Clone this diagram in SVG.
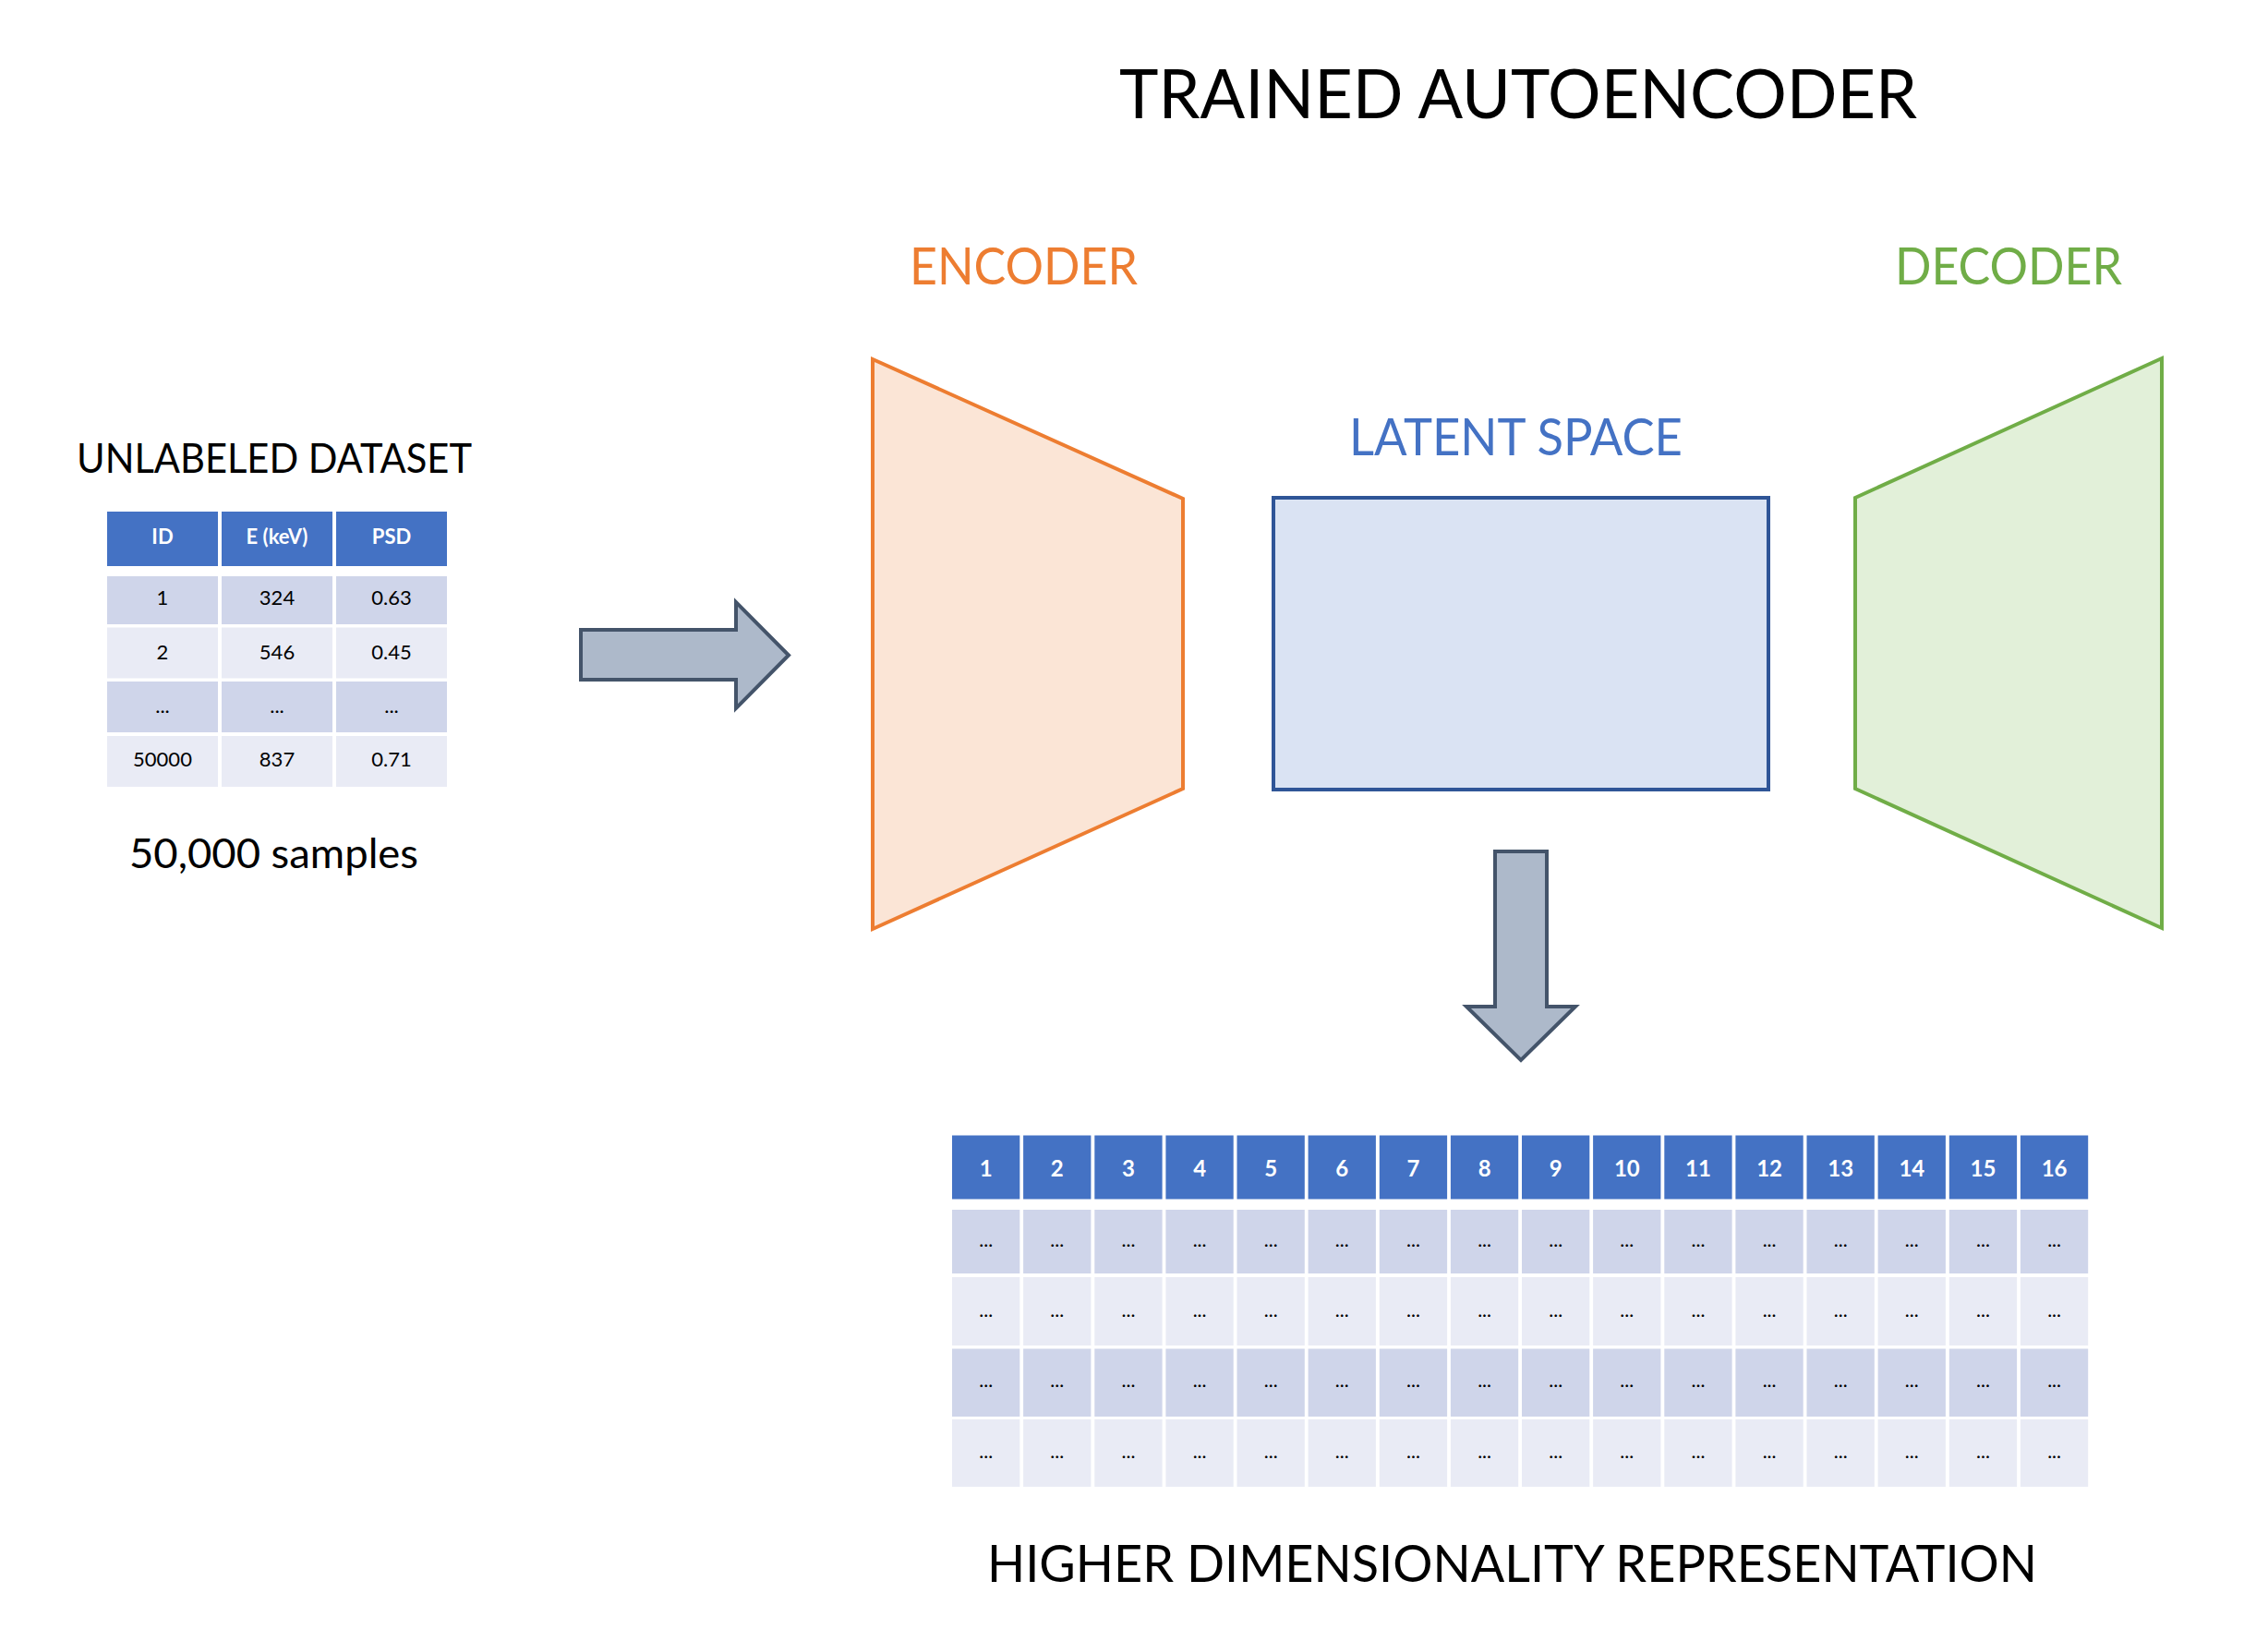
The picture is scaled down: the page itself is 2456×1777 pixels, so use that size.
<svg xmlns="http://www.w3.org/2000/svg" width="2456" height="1777" viewBox="0 0 2456 1777">
<style>
text{font-family:Lato,"Open Sans","Liberation Sans",sans-serif}
.lbl{font-size:45px;fill:#000}
.hd{fill:#4472C4}
.r1{fill:#CFD5EA}
.r2{fill:#E9EBF5}
.ht{font-size:22px;font-weight:bold;fill:#fff;text-anchor:middle}
.bt{font-size:22px;fill:#000;text-anchor:middle}
.bht{font-size:24px;font-weight:bold;fill:#fff;text-anchor:middle}
.dt{font-size:21px;fill:#000;text-anchor:middle}
.arrow{fill:#ADB9CA;stroke:#44546A;stroke-width:4;stroke-linejoin:miter}
</style>
<rect width="2456" height="1777" fill="#fff"/>

<g id="title">
<text x="1212" y="128" font-size="73" textLength="864" lengthAdjust="spacingAndGlyphs" fill="#000">TRAINED AUTOENCODER</text>
</g>

<g id="dataset">
<text class="lbl" x="83" y="512" textLength="428" lengthAdjust="spacingAndGlyphs">UNLABELED DATASET</text>
<rect class="hd" x="116" y="554" width="120" height="59"/>
<rect class="hd" x="240" y="554" width="120" height="59"/>
<rect class="hd" x="364" y="554" width="120" height="59"/>
<rect class="r1" x="116" y="624" width="120" height="52"/>
<rect class="r1" x="240" y="624" width="120" height="52"/>
<rect class="r1" x="364" y="624" width="120" height="52"/>
<rect class="r2" x="116" y="679.5" width="120" height="55"/>
<rect class="r2" x="240" y="679.5" width="120" height="55"/>
<rect class="r2" x="364" y="679.5" width="120" height="55"/>
<rect class="r1" x="116" y="738" width="120" height="55"/>
<rect class="r1" x="240" y="738" width="120" height="55"/>
<rect class="r1" x="364" y="738" width="120" height="55"/>
<rect class="r2" x="116" y="797" width="120" height="55"/>
<rect class="r2" x="240" y="797" width="120" height="55"/>
<rect class="r2" x="364" y="797" width="120" height="55"/>
<text class="ht" x="176" y="589">ID</text>
<text class="ht" x="300" y="589">E (keV)</text>
<text class="ht" x="424" y="589">PSD</text>
<text class="bt" x="176" y="655">1</text>
<text class="bt" x="300" y="655">324</text>
<text class="bt" x="424" y="655">0.63</text>
<text class="bt" x="176" y="714">2</text>
<text class="bt" x="300" y="714">546</text>
<text class="bt" x="424" y="714">0.45</text>
<text class="bt" x="176" y="772">...</text>
<text class="bt" x="300" y="772">...</text>
<text class="bt" x="424" y="772">...</text>
<text class="bt" x="176" y="830">50000</text>
<text class="bt" x="300" y="830">837</text>
<text class="bt" x="424" y="830">0.71</text>
<text class="lbl" x="140" y="940" textLength="313" lengthAdjust="spacingAndGlyphs">50,000 samples</text>
</g>

<g id="encoder">
<polygon points="945,389 1281,540 1281,854 945,1006" fill="#FBE5D6" stroke="#ED7D31" stroke-width="4"/>
<text x="985" y="308" font-size="56" fill="#ED7D31" textLength="247" lengthAdjust="spacingAndGlyphs">ENCODER</text>
</g>

<g id="latent">
<rect x="1379" y="539" width="536" height="316" fill="#DAE3F3" stroke="#2F5597" stroke-width="4"/>
<text x="1461" y="493" font-size="56" fill="#4472C4" textLength="361" lengthAdjust="spacingAndGlyphs">LATENT SPACE</text>
</g>

<g id="decoder">
<polygon points="2009,539 2341,388 2341,1005 2009,854" fill="#E2F0D9" stroke="#70AD47" stroke-width="4"/>
<text x="2052" y="308" font-size="56" fill="#70AD47" textLength="246" lengthAdjust="spacingAndGlyphs">DECODER</text>
</g>

<g id="connectors">
<polygon class="arrow" points="629,682 797,682 797,652 854,709.5 797,767 797,736 629,736"/>
<polygon class="arrow" points="1619,922 1675,922 1675,1090 1706,1090 1647,1148 1588,1090 1619,1090"/>
</g>

<g id="representation">
<g id="rep-header">
<rect class="hd" x="1031" y="1229.5" width="73.3" height="69"/>
<rect class="hd" x="1108.1" y="1229.5" width="73.3" height="69"/>
<rect class="hd" x="1185.3" y="1229.5" width="73.3" height="69"/>
<rect class="hd" x="1262.4" y="1229.5" width="73.3" height="69"/>
<rect class="hd" x="1339.5" y="1229.5" width="73.3" height="69"/>
<rect class="hd" x="1416.6" y="1229.5" width="73.3" height="69"/>
<rect class="hd" x="1493.8" y="1229.5" width="73.3" height="69"/>
<rect class="hd" x="1570.9" y="1229.5" width="73.3" height="69"/>
<rect class="hd" x="1648" y="1229.5" width="73.3" height="69"/>
<rect class="hd" x="1725.1" y="1229.5" width="73.3" height="69"/>
<rect class="hd" x="1802.3" y="1229.5" width="73.3" height="69"/>
<rect class="hd" x="1879.4" y="1229.5" width="73.3" height="69"/>
<rect class="hd" x="1956.5" y="1229.5" width="73.3" height="69"/>
<rect class="hd" x="2033.6" y="1229.5" width="73.3" height="69"/>
<rect class="hd" x="2110.8" y="1229.5" width="73.3" height="69"/>
<rect class="hd" x="2187.9" y="1229.5" width="73.3" height="69"/>
<text class="bht" x="1067.7" y="1274">1</text>
<text class="bht" x="1144.8" y="1274">2</text>
<text class="bht" x="1222" y="1274">3</text>
<text class="bht" x="1299.1" y="1274">4</text>
<text class="bht" x="1376.2" y="1274">5</text>
<text class="bht" x="1453.3" y="1274">6</text>
<text class="bht" x="1530.5" y="1274">7</text>
<text class="bht" x="1607.6" y="1274">8</text>
<text class="bht" x="1684.7" y="1274">9</text>
<text class="bht" x="1761.8" y="1274">10</text>
<text class="bht" x="1839" y="1274">11</text>
<text class="bht" x="1916.1" y="1274">12</text>
<text class="bht" x="1993.2" y="1274">13</text>
<text class="bht" x="2070.3" y="1274">14</text>
<text class="bht" x="2147.5" y="1274">15</text>
<text class="bht" x="2224.6" y="1274">16</text>
</g>
<g id="rep-row1">
<rect class="r1" x="1031" y="1310" width="73.3" height="69"/>
<rect class="r1" x="1108.1" y="1310" width="73.3" height="69"/>
<rect class="r1" x="1185.3" y="1310" width="73.3" height="69"/>
<rect class="r1" x="1262.4" y="1310" width="73.3" height="69"/>
<rect class="r1" x="1339.5" y="1310" width="73.3" height="69"/>
<rect class="r1" x="1416.6" y="1310" width="73.3" height="69"/>
<rect class="r1" x="1493.8" y="1310" width="73.3" height="69"/>
<rect class="r1" x="1570.9" y="1310" width="73.3" height="69"/>
<rect class="r1" x="1648" y="1310" width="73.3" height="69"/>
<rect class="r1" x="1725.1" y="1310" width="73.3" height="69"/>
<rect class="r1" x="1802.3" y="1310" width="73.3" height="69"/>
<rect class="r1" x="1879.4" y="1310" width="73.3" height="69"/>
<rect class="r1" x="1956.5" y="1310" width="73.3" height="69"/>
<rect class="r1" x="2033.6" y="1310" width="73.3" height="69"/>
<rect class="r1" x="2110.8" y="1310" width="73.3" height="69"/>
<rect class="r1" x="2187.9" y="1310" width="73.3" height="69"/>
<text class="dt" x="1067.7" y="1350">...</text>
<text class="dt" x="1144.8" y="1350">...</text>
<text class="dt" x="1222" y="1350">...</text>
<text class="dt" x="1299.1" y="1350">...</text>
<text class="dt" x="1376.2" y="1350">...</text>
<text class="dt" x="1453.3" y="1350">...</text>
<text class="dt" x="1530.5" y="1350">...</text>
<text class="dt" x="1607.6" y="1350">...</text>
<text class="dt" x="1684.7" y="1350">...</text>
<text class="dt" x="1761.8" y="1350">...</text>
<text class="dt" x="1839" y="1350">...</text>
<text class="dt" x="1916.1" y="1350">...</text>
<text class="dt" x="1993.2" y="1350">...</text>
<text class="dt" x="2070.3" y="1350">...</text>
<text class="dt" x="2147.5" y="1350">...</text>
<text class="dt" x="2224.6" y="1350">...</text>
</g>
<g id="rep-row2">
<rect class="r2" x="1031" y="1383" width="73.3" height="74"/>
<rect class="r2" x="1108.1" y="1383" width="73.3" height="74"/>
<rect class="r2" x="1185.3" y="1383" width="73.3" height="74"/>
<rect class="r2" x="1262.4" y="1383" width="73.3" height="74"/>
<rect class="r2" x="1339.5" y="1383" width="73.3" height="74"/>
<rect class="r2" x="1416.6" y="1383" width="73.3" height="74"/>
<rect class="r2" x="1493.8" y="1383" width="73.3" height="74"/>
<rect class="r2" x="1570.9" y="1383" width="73.3" height="74"/>
<rect class="r2" x="1648" y="1383" width="73.3" height="74"/>
<rect class="r2" x="1725.1" y="1383" width="73.3" height="74"/>
<rect class="r2" x="1802.3" y="1383" width="73.3" height="74"/>
<rect class="r2" x="1879.4" y="1383" width="73.3" height="74"/>
<rect class="r2" x="1956.5" y="1383" width="73.3" height="74"/>
<rect class="r2" x="2033.6" y="1383" width="73.3" height="74"/>
<rect class="r2" x="2110.8" y="1383" width="73.3" height="74"/>
<rect class="r2" x="2187.9" y="1383" width="73.3" height="74"/>
<text class="dt" x="1067.7" y="1426">...</text>
<text class="dt" x="1144.8" y="1426">...</text>
<text class="dt" x="1222" y="1426">...</text>
<text class="dt" x="1299.1" y="1426">...</text>
<text class="dt" x="1376.2" y="1426">...</text>
<text class="dt" x="1453.3" y="1426">...</text>
<text class="dt" x="1530.5" y="1426">...</text>
<text class="dt" x="1607.6" y="1426">...</text>
<text class="dt" x="1684.7" y="1426">...</text>
<text class="dt" x="1761.8" y="1426">...</text>
<text class="dt" x="1839" y="1426">...</text>
<text class="dt" x="1916.1" y="1426">...</text>
<text class="dt" x="1993.2" y="1426">...</text>
<text class="dt" x="2070.3" y="1426">...</text>
<text class="dt" x="2147.5" y="1426">...</text>
<text class="dt" x="2224.6" y="1426">...</text>
</g>
<g id="rep-row3">
<rect class="r1" x="1031" y="1460.5" width="73.3" height="73.5"/>
<rect class="r1" x="1108.1" y="1460.5" width="73.3" height="73.5"/>
<rect class="r1" x="1185.3" y="1460.5" width="73.3" height="73.5"/>
<rect class="r1" x="1262.4" y="1460.5" width="73.3" height="73.5"/>
<rect class="r1" x="1339.5" y="1460.5" width="73.3" height="73.5"/>
<rect class="r1" x="1416.6" y="1460.5" width="73.3" height="73.5"/>
<rect class="r1" x="1493.8" y="1460.5" width="73.3" height="73.5"/>
<rect class="r1" x="1570.9" y="1460.5" width="73.3" height="73.5"/>
<rect class="r1" x="1648" y="1460.5" width="73.3" height="73.5"/>
<rect class="r1" x="1725.1" y="1460.5" width="73.3" height="73.5"/>
<rect class="r1" x="1802.3" y="1460.5" width="73.3" height="73.5"/>
<rect class="r1" x="1879.4" y="1460.5" width="73.3" height="73.5"/>
<rect class="r1" x="1956.5" y="1460.5" width="73.3" height="73.5"/>
<rect class="r1" x="2033.6" y="1460.5" width="73.3" height="73.5"/>
<rect class="r1" x="2110.8" y="1460.5" width="73.3" height="73.5"/>
<rect class="r1" x="2187.9" y="1460.5" width="73.3" height="73.5"/>
<text class="dt" x="1067.7" y="1502">...</text>
<text class="dt" x="1144.8" y="1502">...</text>
<text class="dt" x="1222" y="1502">...</text>
<text class="dt" x="1299.1" y="1502">...</text>
<text class="dt" x="1376.2" y="1502">...</text>
<text class="dt" x="1453.3" y="1502">...</text>
<text class="dt" x="1530.5" y="1502">...</text>
<text class="dt" x="1607.6" y="1502">...</text>
<text class="dt" x="1684.7" y="1502">...</text>
<text class="dt" x="1761.8" y="1502">...</text>
<text class="dt" x="1839" y="1502">...</text>
<text class="dt" x="1916.1" y="1502">...</text>
<text class="dt" x="1993.2" y="1502">...</text>
<text class="dt" x="2070.3" y="1502">...</text>
<text class="dt" x="2147.5" y="1502">...</text>
<text class="dt" x="2224.6" y="1502">...</text>
</g>
<g id="rep-row4">
<rect class="r2" x="1031" y="1537" width="73.3" height="73"/>
<rect class="r2" x="1108.1" y="1537" width="73.3" height="73"/>
<rect class="r2" x="1185.3" y="1537" width="73.3" height="73"/>
<rect class="r2" x="1262.4" y="1537" width="73.3" height="73"/>
<rect class="r2" x="1339.5" y="1537" width="73.3" height="73"/>
<rect class="r2" x="1416.6" y="1537" width="73.3" height="73"/>
<rect class="r2" x="1493.8" y="1537" width="73.3" height="73"/>
<rect class="r2" x="1570.9" y="1537" width="73.3" height="73"/>
<rect class="r2" x="1648" y="1537" width="73.3" height="73"/>
<rect class="r2" x="1725.1" y="1537" width="73.3" height="73"/>
<rect class="r2" x="1802.3" y="1537" width="73.3" height="73"/>
<rect class="r2" x="1879.4" y="1537" width="73.3" height="73"/>
<rect class="r2" x="1956.5" y="1537" width="73.3" height="73"/>
<rect class="r2" x="2033.6" y="1537" width="73.3" height="73"/>
<rect class="r2" x="2110.8" y="1537" width="73.3" height="73"/>
<rect class="r2" x="2187.9" y="1537" width="73.3" height="73"/>
<text class="dt" x="1067.7" y="1579">...</text>
<text class="dt" x="1144.8" y="1579">...</text>
<text class="dt" x="1222" y="1579">...</text>
<text class="dt" x="1299.1" y="1579">...</text>
<text class="dt" x="1376.2" y="1579">...</text>
<text class="dt" x="1453.3" y="1579">...</text>
<text class="dt" x="1530.5" y="1579">...</text>
<text class="dt" x="1607.6" y="1579">...</text>
<text class="dt" x="1684.7" y="1579">...</text>
<text class="dt" x="1761.8" y="1579">...</text>
<text class="dt" x="1839" y="1579">...</text>
<text class="dt" x="1916.1" y="1579">...</text>
<text class="dt" x="1993.2" y="1579">...</text>
<text class="dt" x="2070.3" y="1579">...</text>
<text class="dt" x="2147.5" y="1579">...</text>
<text class="dt" x="2224.6" y="1579">...</text>
</g>
<text x="1069" y="1713" font-size="57" fill="#000" textLength="1137" lengthAdjust="spacingAndGlyphs">HIGHER DIMENSIONALITY REPRESENTATION</text>
</g>
</svg>
